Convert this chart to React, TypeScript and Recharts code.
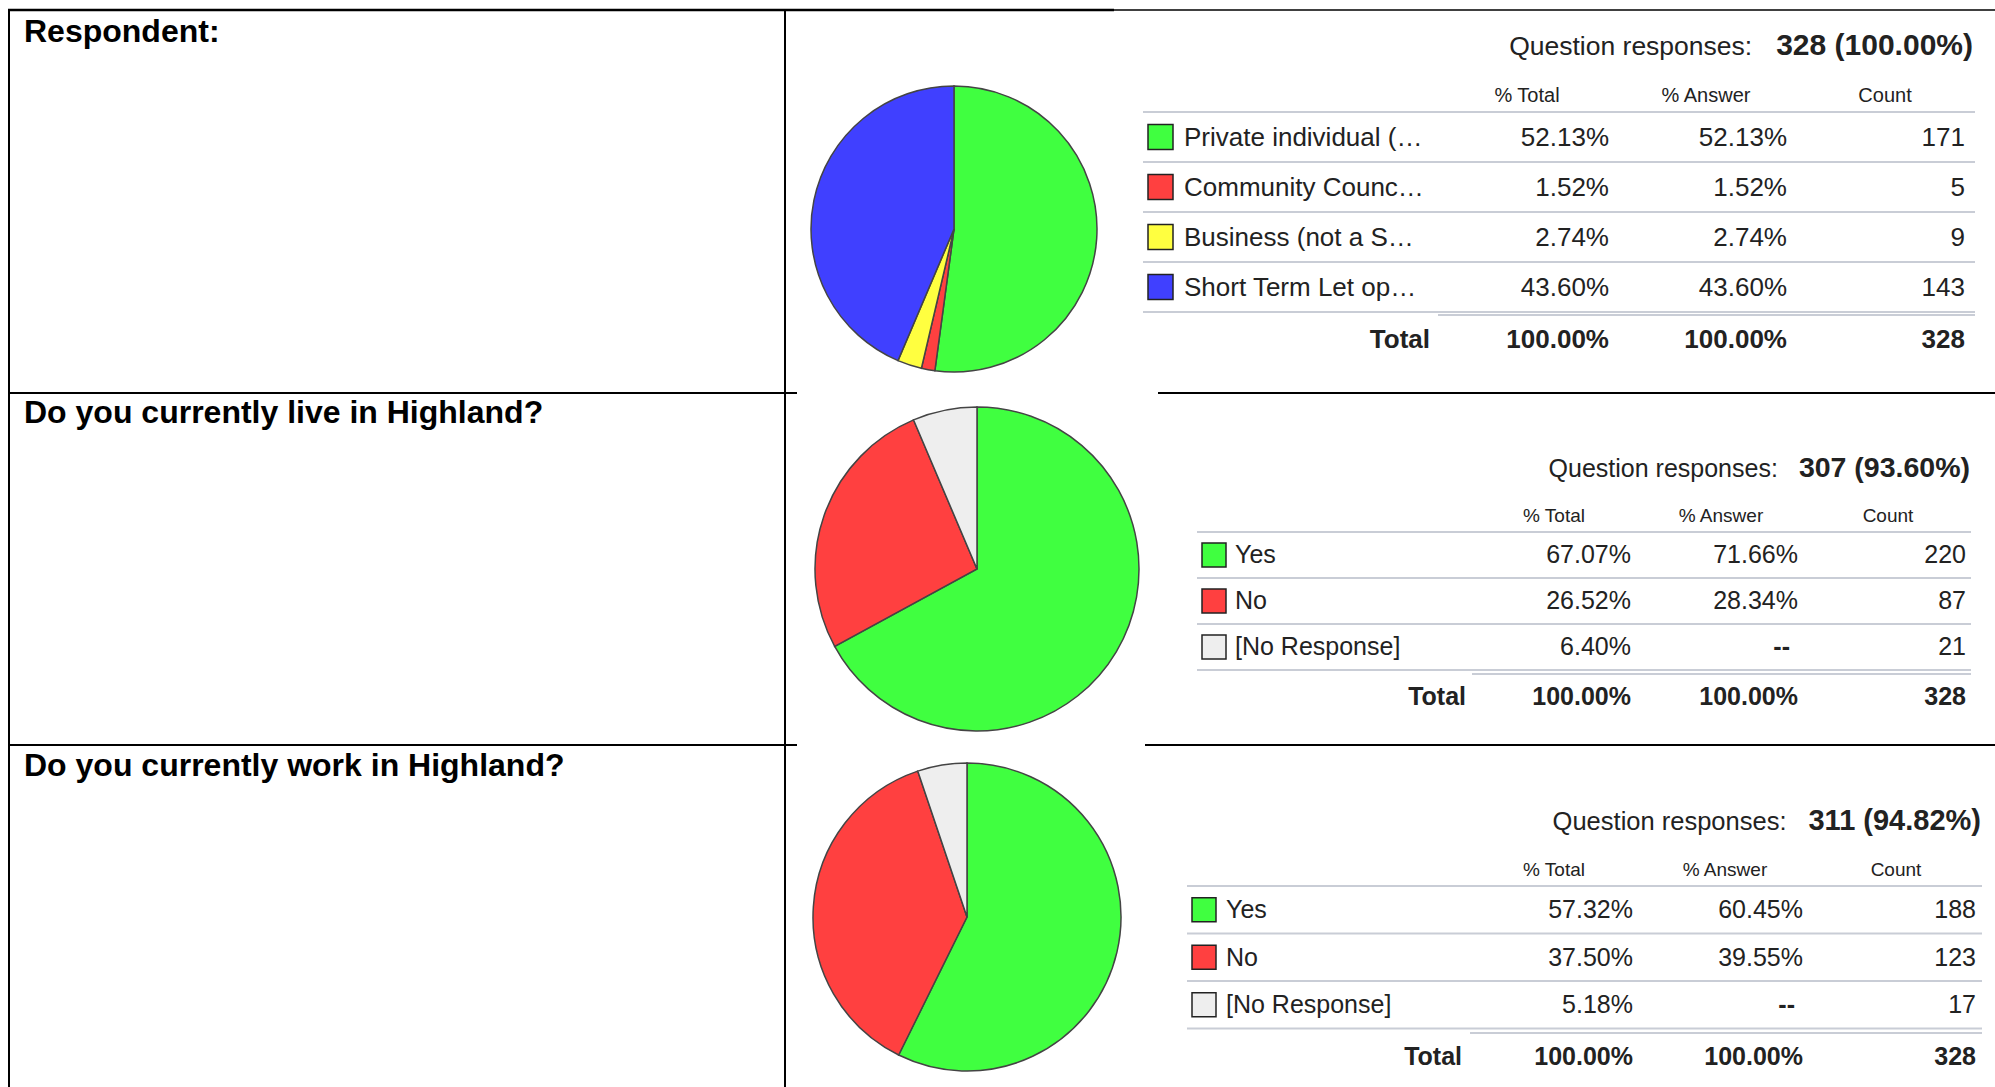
import React from "react"
import { PieChart, Pie, Cell } from "recharts"

// Q1 - Respondent
const respondentLabels = ["Private individual (…", "Community Counc…", "Business (not a S…", "Short Term Let op…"]
const respondentCounts = [171, 5, 9, 143]
const respondentPctTotal = ["52.13%", "1.52%", "2.74%", "43.60%"]
const respondentPctAnswer = ["52.13%", "1.52%", "2.74%", "43.60%"]
const respondentColors = ["#40ff40", "#ff4040", "#ffff40", "#4040ff"]
const respondentTotals = ["100.00%", "100.00%", "328"]
const respondentResponses = "328 (100.00%)"

// Q2 - live in Highland
const liveLabels = ["Yes", "No", "[No Response]"]
const liveCounts = [220, 87, 21]
const livePctTotal = ["67.07%", "26.52%", "6.40%"]
const livePctAnswer = ["71.66%", "28.34%", "--"]
const liveTotals = ["100.00%", "100.00%", "328"]
const liveResponses = "307 (93.60%)"

// Q3 - work in Highland
const workLabels = ["Yes", "No", "[No Response]"]
const workCounts = [188, 123, 17]
const workPctTotal = ["57.32%", "37.50%", "5.18%"]
const workPctAnswer = ["60.45%", "39.55%", "--"]
const workTotals = ["100.00%", "100.00%", "328"]
const workResponses = "311 (94.82%)"

const yesNoColors = ["#40ff40", "#ff4040", "#eeeeee"]
const columnHeaders = ["% Total", "% Answer", "Count"]

const FONT = "'Liberation Sans', Arial, sans-serif"
const INK = "#222"
const RULE = "#c9cdd6"

type TableLayout = {
  qBase: number
  qRight: number
  qSize: number
  qBoldSize: number
  qGap: number
  headBase: number
  headCenters: number[]
  headSize: number
  lineY: number
  lineL: number
  lineR: number
  rowH: number
  swatchX: number
  swatch: number
  labelX: number
  valueRights: number[]
  rowSize: number
  total2Y: number
  total2L: number
  totalBase: number
  totalRight: number
  totalSize: number
}

function ResponseTable({
  layout: L,
  labels,
  colors,
  pctTotal,
  pctAnswer,
  counts,
  totals,
  responses,
}: {
  layout: TableLayout
  labels: string[]
  colors: string[]
  pctTotal: string[]
  pctAnswer: string[]
  counts: number[]
  totals: string[]
  responses: string
}) {
  return (
    <g fontFamily={FONT} fill={INK}>
      <text x={L.qRight} y={L.qBase} textAnchor="end" fontSize={L.qSize}>
        <tspan>Question responses:</tspan>
        <tspan dx={L.qGap} fontWeight="bold" fontSize={L.qBoldSize}>{responses}</tspan>
      </text>
      {columnHeaders.map((h, i) => (
        <text key={h} x={L.headCenters[i]} y={L.headBase} textAnchor="middle" fontSize={L.headSize}>
          {h}
        </text>
      ))}
      <line x1={L.lineL} x2={L.lineR} y1={L.lineY} y2={L.lineY} stroke={RULE} strokeWidth={2} />
      {labels.map((lab, i) => {
        const top = L.lineY + i * L.rowH
        const base = top + L.rowH * 0.68
        const cols = [pctTotal[i], pctAnswer[i], String(counts[i])]
        return (
          <g key={lab}>
            <rect
              x={L.swatchX}
              y={top + (L.rowH - L.swatch) / 2}
              width={L.swatch}
              height={L.swatch}
              fill={colors[i]}
              stroke="#222"
              strokeWidth={1.5}
            />
            <text x={L.labelX} y={base} fontSize={L.rowSize}>{lab}</text>
            {cols.map((v, j) =>
              v === "--" ? (
                <text key={j} x={L.valueRights[j] - 8} y={base} textAnchor="end" fontSize={L.rowSize} fontWeight="bold">
                  {v}
                </text>
              ) : (
                <text key={j} x={L.valueRights[j]} y={base} textAnchor="end" fontSize={L.rowSize}>
                  {v}
                </text>
              )
            )}
            <line x1={L.lineL} x2={L.lineR} y1={top + L.rowH} y2={top + L.rowH} stroke={RULE} strokeWidth={2} />
          </g>
        )
      })}
      <line x1={L.total2L} x2={L.lineR} y1={L.total2Y} y2={L.total2Y} stroke={RULE} strokeWidth={2} />
      <text x={L.totalRight} y={L.totalBase} textAnchor="end" fontSize={L.totalSize} fontWeight="bold">
        Total
      </text>
      {totals.map((v, j) => (
        <text key={j} x={L.valueRights[j]} y={L.totalBase} textAnchor="end" fontSize={L.totalSize} fontWeight="bold">
          {v}
        </text>
      ))}
    </g>
  )
}

function SurveyPie({
  cx,
  cy,
  r,
  labels,
  counts,
  colors,
}: {
  cx: number
  cy: number
  r: number
  labels: string[]
  counts: number[]
  colors: string[]
}) {
  const size = r * 2 + 10
  const data = labels.map((name, i) => ({ name, value: counts[i] }))
  return (
    <div style={{ position: "absolute", left: cx - size / 2, top: cy - size / 2 }}>
      <PieChart width={size} height={size} margin={{ top: 0, right: 0, bottom: 0, left: 0 }}>
        <Pie
          data={data}
          dataKey="value"
          cx="50%"
          cy="50%"
          outerRadius={r}
          startAngle={90}
          endAngle={-270}
          stroke="#444"
          strokeWidth={1.5}
          isAnimationActive={false}
        >
          {data.map((d, i) => (
            <Cell key={d.name} fill={colors[i]} />
          ))}
        </Pie>
      </PieChart>
    </div>
  )
}

const t1: TableLayout = {
  qBase: 55, qRight: 1973, qSize: 26.5, qBoldSize: 30, qGap: 24,
  headBase: 102, headCenters: [1527, 1706, 1885], headSize: 20,
  lineY: 112, lineL: 1143, lineR: 1975, rowH: 50,
  swatchX: 1148, swatch: 25, labelX: 1184,
  valueRights: [1609, 1787, 1965], rowSize: 26,
  total2Y: 315, total2L: 1438, totalBase: 348, totalRight: 1430, totalSize: 26,
}

const t2: TableLayout = {
  qBase: 477, qRight: 1970, qSize: 25, qBoldSize: 28.5, qGap: 21,
  headBase: 522, headCenters: [1554, 1721, 1888], headSize: 19,
  lineY: 532, lineL: 1197, lineR: 1971, rowH: 46,
  swatchX: 1202, swatch: 24, labelX: 1235,
  valueRights: [1631, 1798, 1966], rowSize: 25,
  total2Y: 674, total2L: 1472, totalBase: 705, totalRight: 1466, totalSize: 25,
}

const t3: TableLayout = {
  qBase: 830, qRight: 1981, qSize: 25.5, qBoldSize: 29, qGap: 22,
  headBase: 876, headCenters: [1554, 1725, 1896], headSize: 19,
  lineY: 886, lineL: 1187, lineR: 1982, rowH: 47.5,
  swatchX: 1192, swatch: 24, labelX: 1226,
  valueRights: [1633, 1803, 1976], rowSize: 25,
  total2Y: 1033, total2L: 1470, totalBase: 1065, totalRight: 1462, totalSize: 25,
}

export default function App() {
  return (
    <div style={{ position: "absolute", left: 0, top: 0, width: 1995, height: 1087, background: "#fff", overflow: "hidden" }}>
      <svg width={1995} height={1087} style={{ position: "absolute", left: 0, top: 0 }}>
        {/* table frame */}
        <line x1={8} x2={1114} y1={10} y2={10} stroke="#000" strokeWidth={2.5} />
        <line x1={1114} x2={1995} y1={10} y2={10} stroke="#000" strokeWidth={1.5} />
        <line x1={9} x2={9} y1={9} y2={1087} stroke="#000" strokeWidth={2} />
        <line x1={785} x2={785} y1={9} y2={1087} stroke="#000" strokeWidth={2} />
        <line x1={8} x2={797} y1={393} y2={393} stroke="#000" strokeWidth={2} />
        <line x1={1158} x2={1995} y1={393} y2={393} stroke="#000" strokeWidth={2} />
        <line x1={8} x2={797} y1={745} y2={745} stroke="#000" strokeWidth={2} />
        <line x1={1145} x2={1995} y1={745} y2={745} stroke="#000" strokeWidth={2} />

        <g fontFamily={FONT} fontWeight="bold" fontSize={32} fill="#000">
          <text x={24} y={42}>Respondent:</text>
          <text x={24} y={423}>Do you currently live in Highland?</text>
          <text x={24} y={776}>Do you currently work in Highland?</text>
        </g>

        <ResponseTable
          layout={t1}
          labels={respondentLabels}
          colors={respondentColors}
          pctTotal={respondentPctTotal}
          pctAnswer={respondentPctAnswer}
          counts={respondentCounts}
          totals={respondentTotals}
          responses={respondentResponses}
        />
        <ResponseTable
          layout={t2}
          labels={liveLabels}
          colors={yesNoColors}
          pctTotal={livePctTotal}
          pctAnswer={livePctAnswer}
          counts={liveCounts}
          totals={liveTotals}
          responses={liveResponses}
        />
        <ResponseTable
          layout={t3}
          labels={workLabels}
          colors={yesNoColors}
          pctTotal={workPctTotal}
          pctAnswer={workPctAnswer}
          counts={workCounts}
          totals={workTotals}
          responses={workResponses}
        />
      </svg>

      <SurveyPie cx={954} cy={229} r={143} labels={respondentLabels} counts={respondentCounts} colors={respondentColors} />
      <SurveyPie cx={977} cy={569} r={162} labels={liveLabels} counts={liveCounts} colors={yesNoColors} />
      <SurveyPie cx={967} cy={917} r={154} labels={workLabels} counts={workCounts} colors={yesNoColors} />
    </div>
  )
}
